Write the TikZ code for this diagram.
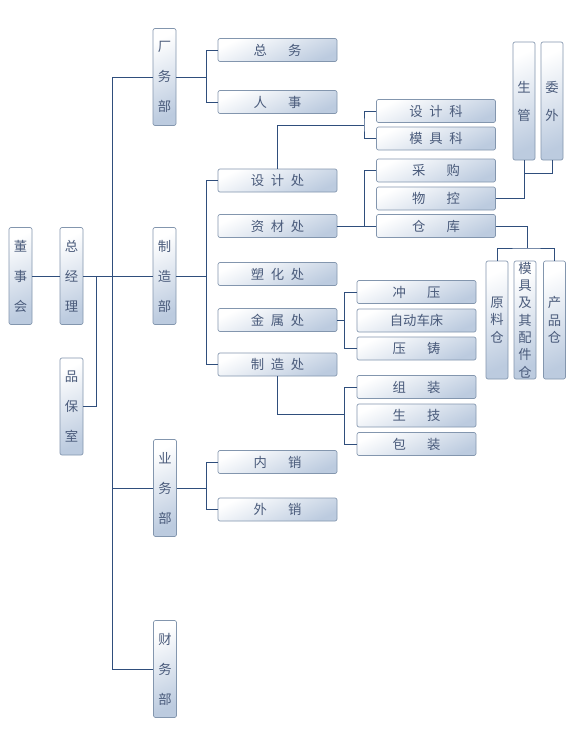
\documentclass[tikz,border=0pt]{standalone}
\usepackage{fontspec}
\newfontfamily\cjk{Noto Sans CJK SC}
\definecolor{linkblue}{HTML}{2F4E7C}
\definecolor{boxedge}{HTML}{8396AE}
\definecolor{boxbot}{HTML}{BCCBDF}
\definecolor{boxtext}{HTML}{4A5B7B}
\newcommand{\gs}{\hspace{0.5em}}
\newcommand{\gw}{\hspace{1.6em}}
\tikzset{
  box/.style={draw=boxedge, line width=0.5pt, rounded corners=1.5pt, top color=white, bottom color=boxbot, shading angle=25, text=boxtext, inner sep=0pt},
  hbox/.style={box, minimum width=89.25pt, minimum height=17.25pt, font=\cjk\fontsize{10}{12}\selectfont},
  vbox/.style={box, minimum width=17.25pt, minimum height=72.75pt, align=center, font=\cjk\fontsize{10}{22.5}\selectfont},
  tbox/.style={box, minimum width=16.5pt, minimum height=88.5pt, align=center, font=\cjk\fontsize{10}{13}\selectfont},
  link/.style={draw=linkblue, line width=0.6pt},
}

\begin{document}
\begin{tikzpicture}[x=0.75pt,y=-0.75pt]
\fill[white] (0,0) rectangle (570,742);
\useasboundingbox (0,0) rectangle (570,742);

\coordinate (spine) at (112,0);
\coordinate (pb) at (96,0);
\coordinate (b1) at (206,0);
\coordinate (b2) at (364,0);
\coordinate (b3) at (344,0);
\coordinate (kemid) at (364,125);
\coordinate (sgfork) at (524,173);
\coordinate (ckfork) at (527,248);
\coordinate (zzfork) at (344,414);

% left column
\node[vbox] (dongshi) at (20.5,276) {董\\事\\会};
\node[vbox] (zongjingli) at (71.5,276) {总\\经\\理};
\node[vbox] (pinbao) at (71.5,406.5) {品\\保\\室};

% departments
\node[vbox] (changwu) at (164.5,77) {厂\\务\\部};
\node[vbox] (zhizaobu) at (164.5,276) {制\\造\\部};
\node[vbox] (yewu) at (165,488) {业\\务\\部};
\node[vbox] (caiwu) at (165,669) {财\\务\\部};

\node[hbox] (zongwu) at (277.5,50) {总\gw 务};
\node[hbox] (renshi) at (277.5,102) {人\gw 事};
\node[hbox] (sheji) at (277.5,180.5) {设\gs 计\gs 处};
\node[hbox] (zicai) at (277.5,226) {资\gs 材\gs 处};
\node[hbox] (suhua) at (277.5,274) {塑\gs 化\gs 处};
\node[hbox] (jinshu) at (277.5,320) {金\gs 属\gs 处};
\node[hbox] (zhizaochu) at (277.5,364.5) {制\gs 造\gs 处};
\node[hbox] (neixiao) at (277.5,462) {内\gw 销};
\node[hbox] (waixiao) at (277.5,509.5) {外\gw 销};

\node[hbox] (shejike) at (436,111) {设\gs 计\gs 科};
\node[hbox] (mojuke) at (436,138.5) {模\gs 具\gs 科};
\node[hbox] (caigou) at (436,170.5) {采\gw 购};
\node[hbox] (wukong) at (436,198.5) {物\gw 控};
\node[hbox] (cangku) at (436,226) {仓\gw 库};

\node[hbox] (chongya) at (416.5,292) {冲\gw 压};
\node[hbox] (zidong) at (416.5,320.5) {自动车床};
\node[hbox] (yazhu) at (416.5,348.5) {压\gw 铸};
\node[hbox] (zuzhuang) at (416.5,387) {组\gw 装};
\node[hbox] (shengji) at (416.5,415.5) {生\gw 技};
\node[hbox] (baozhuang) at (416.5,444) {包\gw 装};

\node[tbox, font=\cjk\fontsize{10}{21}\selectfont] (shengguan) at (524,101) {生\\管};
\node[tbox, font=\cjk\fontsize{10}{21}\selectfont] (weiwai) at (552,101) {委\\外};

\node[tbox] (yuanliao) at (497,320) {原\\料\\仓};
\node[tbox] (moju) at (525,320) {模\\具\\及\\其\\配\\件\\仓};
\node[tbox] (chanpin) at (554.5,320) {产\\品\\仓};

% connectors
\draw[link] (dongshi.east) -- (zongjingli.west);
\draw[link] (zongjingli.east) -- (zhizaobu.west);
\draw[link] (zongjingli.east -| pb) |- (pinbao.east);
\draw[link] (changwu.west) -- (changwu.west -| spine) -- (caiwu.west -| spine) -- (caiwu.west);
\draw[link] (yewu.west) -- (yewu.west -| spine);

\draw[link] (changwu.east) -- (changwu.east -| b1);
\draw[link] (zongwu.west) -- (zongwu.west -| b1) |- (renshi.west);
\draw[link] (zhizaobu.east) -- (zhizaobu.east -| b1);
\draw[link] (sheji.west) -- (sheji.west -| b1) |- (zhizaochu.west);
\draw[link] (yewu.east) -- (yewu.east -| b1);
\draw[link] (neixiao.west) -- (neixiao.west -| b1) |- (waixiao.west);

\draw[link] (sheji.north) |- (kemid);
\draw[link] (shejike.west) -| (kemid) |- (mojuke.west);
\draw[link] (zicai.east) -- (cangku.west);
\draw[link] (caigou.west) -- (caigou.west -| b2) -- (cangku.west -| b2);

\draw[link] (wukong.east) -| (shengguan.south);
\draw[link] (sgfork) -| (weiwai.south);
\draw[link] (cangku.east) -| (ckfork);
\draw[link] (yuanliao.north) |- (ckfork) -| (chanpin.north);

\draw[link] (jinshu.east) -- (jinshu.east -| b3);
\draw[link] (chongya.west) -- (chongya.west -| b3) |- (yazhu.west);
\draw[link] (zhizaochu.south) |- (zzfork);
\draw[link] (zuzhuang.west) -- (zuzhuang.west -| b3) |- (baozhuang.west);

\end{tikzpicture}
\end{document}
